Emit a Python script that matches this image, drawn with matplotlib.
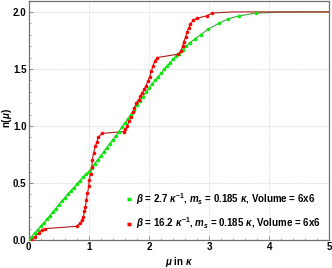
import matplotlib
matplotlib.use("Agg")
import matplotlib.pyplot as plt
from matplotlib.ticker import MultipleLocator

plt.rcParams['font.family'] = ['Liberation Sans', 'DejaVu Sans']
plt.rcParams['mathtext.fontset'] = 'custom'
plt.rcParams['mathtext.it'] = 'Liberation Sans:italic:bold'
plt.rcParams['mathtext.rm'] = 'Liberation Sans:bold'
plt.rcParams['mathtext.bf'] = 'Liberation Sans:bold'

# beta = 2.7 (green)
green_mu = [0.00, 0.05, 0.10, 0.15, 0.20, 0.25, 0.30, 0.35, 0.40, 0.45,
            0.50, 0.55, 0.60, 0.65, 0.70, 0.75, 0.80, 0.85, 0.90, 0.95,
            1.00, 1.05, 1.10, 1.15, 1.20, 1.25, 1.30, 1.35, 1.40, 1.45,
            1.50, 1.55, 1.60, 1.65, 1.70, 1.75, 1.80, 1.85, 1.90, 1.95,
            2.00, 2.05, 2.10, 2.15, 2.20, 2.25, 2.30, 2.35, 2.40, 2.45,
            2.50, 2.56, 2.62, 2.68, 2.76, 2.86, 2.99, 3.16, 3.32, 3.50, 3.78]
green_n = [0.000, 0.030, 0.060, 0.090, 0.120, 0.150, 0.180, 0.210, 0.245, 0.275,
           0.310, 0.340, 0.370, 0.400, 0.430, 0.460, 0.490, 0.520, 0.550, 0.575,
           0.600, 0.635, 0.670, 0.705, 0.740, 0.775, 0.810, 0.845, 0.880, 0.915,
           0.950, 0.990, 1.025, 1.065, 1.100, 1.140, 1.180, 1.220, 1.255, 1.295,
           1.330, 1.365, 1.400, 1.430, 1.460, 1.495, 1.525, 1.555, 1.585, 1.610,
           1.635, 1.665, 1.700, 1.730, 1.760, 1.800, 1.850, 1.900, 1.940, 1.965, 1.990]
green_tail_mu = [4.2, 4.6, 5.0]
green_tail_n = [1.997, 2.0, 2.0]

# beta = 16.2 (red)
red_mu = [0.05, 0.11, 0.17, 0.22, 0.28, 0.80, 0.86, 0.89, 0.91, 0.93,
          0.945, 0.96, 0.98, 1.00, 1.01, 1.03, 1.05, 1.06, 1.08, 1.11,
          1.135, 1.16, 1.22, 1.58, 1.61, 1.64, 1.67, 1.70, 1.73, 1.76,
          1.79, 1.83, 1.86, 1.89, 1.92, 1.95, 1.98, 2.01, 2.04, 2.07,
          2.10, 2.14, 2.49, 2.53, 2.56, 2.58, 2.61, 2.63, 2.66, 2.69,
          2.74, 2.80, 2.96, 3.05]
red_n = [0.000, 0.030, 0.060, 0.090, 0.100, 0.120, 0.150, 0.175, 0.200, 0.250,
         0.290, 0.350, 0.410, 0.470, 0.530, 0.580, 0.640, 0.700, 0.760, 0.820,
         0.860, 0.900, 0.935, 0.950, 0.970, 1.000, 1.040, 1.080, 1.120, 1.160,
         1.200, 1.230, 1.260, 1.290, 1.320, 1.350, 1.390, 1.430, 1.480, 1.530,
         1.570, 1.600, 1.630, 1.660, 1.700, 1.740, 1.780, 1.820, 1.860, 1.890,
         1.930, 1.945, 1.965, 1.990]
red_tail_mu = [3.4, 4.0, 5.0]
red_tail_n = [2.0, 2.0, 2.0]

labels = [r"$\beta$ = 2.7 $\kappa^{-1}$, $m_s$ = 0.185 $\kappa$, Volume = 6x6",
          r"$\beta$ = 16.2 $\kappa^{-1}$, $m_s$ = 0.185 $\kappa$, Volume = 6x6"]

fig = plt.figure(figsize=(3.32, 2.68), dpi=100)
ax = fig.add_axes([28.5 / 332, 28 / 268, 301 / 332, 239.5 / 268])

ax.plot(green_mu + green_tail_mu, green_n + green_tail_n, color='#3aa83a', lw=0.8, zorder=2)
ax.plot(red_mu + red_tail_mu, red_n + red_tail_n, color='#b01818', lw=0.8, zorder=2)
ax.plot(green_mu, green_n, 'o', color='#00ee00', ms=2.6, mew=0, zorder=3)
ax.plot(red_mu, red_n, 'o', color='#ff0000', ms=2.6, mew=0, zorder=3)

ax.set_xlim(0, 5)
ax.set_ylim(0, 2.1)
ax.xaxis.set_major_locator(MultipleLocator(1))
ax.xaxis.set_minor_locator(MultipleLocator(0.2))
ax.yaxis.set_major_locator(MultipleLocator(0.5))
ax.yaxis.set_minor_locator(MultipleLocator(0.1))
ax.yaxis.set_major_formatter(plt.FuncFormatter(lambda v, p: f"{v:.1f}"))
ax.tick_params(which='both', direction='in', color='#808080', labelsize=7, pad=1.5)
ax.tick_params(which='major', length=3, width=0.6)
ax.tick_params(which='minor', length=1.6, width=0.5)
for lab in ax.get_xticklabels() + ax.get_yticklabels():
    lab.set_fontweight('bold')
for sp in ax.spines.values():
    sp.set_color('#707070')
    sp.set_linewidth(0.9)
ax.grid(True, which='major', color='#d4d4d4', ls=(0, (1.5, 1.5)), lw=0.6)

ax.set_xlabel(r"$\mu$ in $\kappa$", fontsize=7, fontweight='bold', labelpad=2)
fig.text(7.5 / 332, 1 - 118 / 268, r"n($\mu$)", fontsize=7, fontweight='bold',
         rotation=90, ha='center', va='center')

h1, = ax.plot([], [], color='#00ee00', lw=2.5, solid_capstyle='butt')
h2, = ax.plot([], [], color='#ff0000', lw=2.5, solid_capstyle='butt')
leg = ax.legend([h1, h2], labels, loc='lower right', bbox_to_anchor=(1.0, 0.0),
                frameon=False, handlelength=0.4, handletextpad=0.5,
                labelspacing=0.9, prop={'size': 7, 'weight': 'bold'})

fig.savefig("out.png", dpi=100)
